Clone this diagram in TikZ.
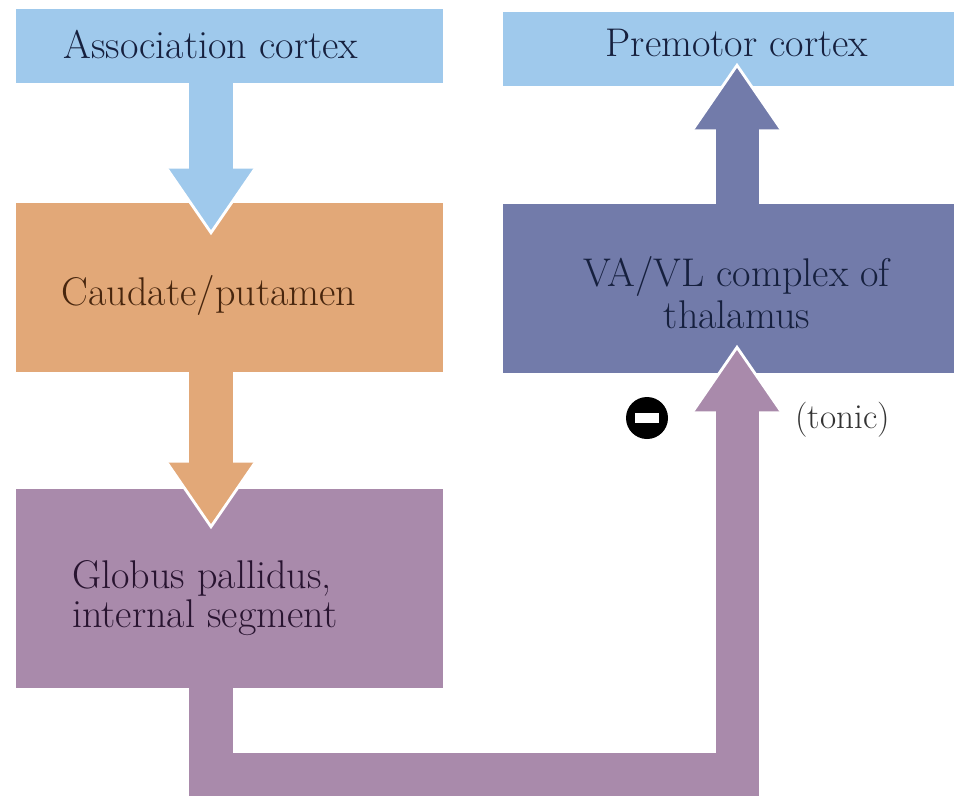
\documentclass[tikz,border=0pt]{standalone}
\usetikzlibrary{arrows.meta,calc}
\definecolor{cortexblue}{RGB}{159,201,236}
\definecolor{caudorange}{RGB}{226,168,120}
\definecolor{pallidpurple}{RGB}{169,138,171}
\definecolor{thalblue}{RGB}{114,123,170}
\definecolor{inkblue}{RGB}{22,32,62}
\definecolor{inkbrown}{RGB}{72,38,14}
\definecolor{inkpurple}{RGB}{40,20,48}
\begin{document}
\begin{tikzpicture}[x=0.025cm,y=-0.025cm,line join=miter]
	\tikzset{box/.style={rectangle,inner sep=0pt,minimum width=10.675cm},
		wide/.style={box,minimum width=11.275cm},
		lbl/.style={font=\fontsize{28.5}{30}\selectfont,inner sep=0pt},
		flow/.style={line width=1.075cm,-{Triangle[width=2.2cm,length=1.6cm,line width=0pt]}},
		tipedge/.style={white,line width=2pt,line cap=round}}
	\useasboundingbox (0,0) rectangle (954,805);
	\coordinate (cL) at (211,0);
	\coordinate (cR) at (737,0);
	% boxes
	\node[box,fill=cortexblue,minimum height=1.85cm] (assoc) at (229.5,46) {};
	\node[wide,fill=cortexblue,minimum height=1.85cm] (premotor) at (728.5,49) {};
	\node[box,fill=caudorange,minimum height=4.225cm] (caud) at (229.5,287.5) {};
	\node[wide,fill=thalblue,minimum height=4.225cm] (vavl) at (728.5,288.5) {};
	\node[box,fill=pallidpurple,minimum height=4.975cm] (gp) at (229.5,588.5) {};
	% arrows
	\coordinate (tipA) at ($(caud.north -| cL)+(0,30)$);
	\coordinate (tipB) at ($(gp.north -| cL)+(0,38)$);
	\coordinate (tipC) at ($(premotor.south -| cR)+(0,-21)$);
	\coordinate (tipD) at ($(vavl.south -| cR)+(0,-26)$);
	\coordinate (bend) at (737,774);
	\draw[flow,cortexblue] (assoc.south -| cL) -- (tipA);
	\draw[flow,caudorange] (caud.south -| cL) -- (tipB);
	\draw[flow,thalblue] (vavl.north -| cR) -- (tipC);
	\draw[flow,pallidpurple] (gp.south -| cL) |- (bend) -- (tipD);
	\foreach \t/\d in {tipA/-1,tipB/-1,tipC/1,tipD/1}
	\draw[tipedge] ($(\t)+(-44,\d*64)$) -- (\t) -- ($(\t)+(44,\d*64)$);
	% labels
	\node[lbl,text=inkblue,anchor=base] (assoctxt) at (211,58) {Association cortex};
	\node[lbl,text=inkblue,anchor=base] (premotortxt) at (737,56) {Premotor cortex};
	\node[lbl,text=inkbrown,anchor=base] (caudtxt) at (209,305) {Caudate/putamen};
	\node[lbl,text=inkblue,align=center] (vavltxt) at (737,293) {VA/VL complex of\\thalamus};
	\node[lbl,text=inkpurple,align=left,anchor=west,font=\fontsize{28.5}{27.7}\selectfont] (gptxt) at (72,598) {Globus pallidus,\\internal segment};
	\node[circle,fill=black,minimum size=1.05cm,inner sep=0pt] (inhib) at (647,418) {\color{white}\rule{0.62cm}{0.25cm}};
	\node[lbl,text=black!80,anchor=base west,font=\fontsize{25}{30}\selectfont] (tonic) at (795,428) {(tonic)};
\end{tikzpicture}
\end{document}
